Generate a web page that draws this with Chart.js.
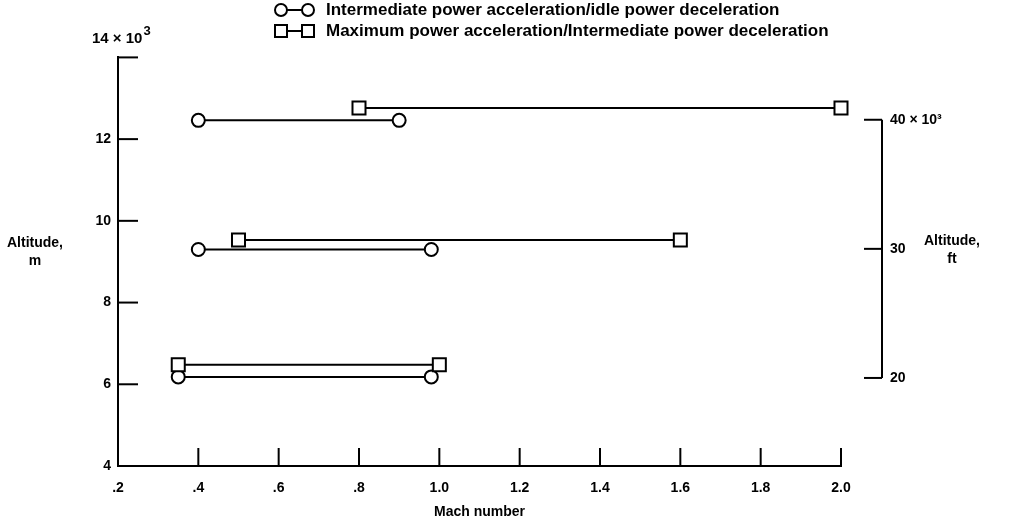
<!DOCTYPE html>
<html><head><meta charset="utf-8">
<script src="https://cdn.jsdelivr.net/npm/chart.js@4"></script>
<style>html,body{margin:0;padding:0;background:#fff}#wrap{width:1010px;height:525px}</style>
</head><body><div id="wrap"><canvas id="c" width="1010" height="525"></canvas></div>
<script>
// ---- data ----
const seriesLabels = ['Intermediate power acceleration/idle power deceleration',
                      'Maximum power acceleration/Intermediate power deceleration'];
// each test condition is one horizontal segment: [start Mach, end Mach] at one altitude (km)
const circleMach = [[0.40, 0.90], [0.40, 0.98], [0.35, 0.98]];
const circleAlt  = [12.46, 9.30, 6.18];
const squareMach = [[0.80, 2.00], [0.50, 1.60], [0.35, 1.00]];
const squareAlt  = [12.76, 9.53, 6.48];
const machTicks  = [0.2, 0.4, 0.6, 0.8, 1.0, 1.2, 1.4, 1.6, 1.8, 2.0];
const altMTicks  = [4, 6, 8, 10, 12, 14];
const altFtTicks = [20, 30, 40];
const xTitle = 'Mach number';
const yTitleM = ['Altitude,', 'm'];
const yTitleFt = ['Altitude,', 'ft'];

const FONT = "'Liberation Sans', Arial, Helvetica, sans-serif";
Chart.defaults.font.family = FONT;
Chart.defaults.font.weight = 'bold';
Chart.defaults.font.size = 14;
Chart.defaults.color = '#000';

function seg(mach, alt) { return mach.map(m => ({x: m, y: alt})); }

const datasets = [];
squareMach.forEach((m, i) => datasets.push({
  label: seriesLabels[1], data: seg(m, squareAlt[i]), showLine: true, clip: false,
  borderColor: '#000', borderWidth: 2, pointStyle: 'rect', pointRadius: 9.2,
  pointBackgroundColor: '#fff', pointBorderColor: '#000', pointBorderWidth: 2, yAxisID: 'y'
}));
circleMach.forEach((m, i) => datasets.push({
  label: seriesLabels[0], data: seg(m, circleAlt[i]), showLine: true, clip: false,
  borderColor: '#000', borderWidth: 2, pointStyle: 'circle', pointRadius: 6.5,
  pointBackgroundColor: '#fff', pointBorderColor: '#000', pointBorderWidth: 2, yAxisID: 'y'
}));

const decor = {
  id: 'decor',
  afterDraw(chart) {
    const ctx = chart.ctx, xs = chart.scales.x, ys = chart.scales.y, yf = chart.scales.yft;
    const L = chart.chartArea.left, B = chart.chartArea.bottom;
    ctx.save();
    ctx.strokeStyle = '#000'; ctx.lineWidth = 2; ctx.fillStyle = '#000';
    // inward tick marks, left axis
    altMTicks.forEach(v => {
      if (v === altMTicks[0]) return;
      const y = ys.getPixelForValue(v);
      ctx.beginPath(); ctx.moveTo(L, y); ctx.lineTo(L + 20, y); ctx.stroke();
    });
    // inward tick marks, x axis
    machTicks.forEach(v => {
      if (v === machTicks[0]) return;
      const x = xs.getPixelForValue(v);
      ctx.beginPath(); ctx.moveTo(x, B); ctx.lineTo(x, B - 18); ctx.stroke();
    });
    // right (ft) bracket axis
    const ax = yf.left + 41;
    const yTop = yf.getPixelForValue(altFtTicks[altFtTicks.length - 1]);
    const yBot = yf.getPixelForValue(altFtTicks[0]);
    ctx.beginPath(); ctx.moveTo(ax, yTop); ctx.lineTo(ax, yBot); ctx.stroke();
    altFtTicks.forEach(v => {
      const y = yf.getPixelForValue(v);
      ctx.beginPath(); ctx.moveTo(ax - 18, y); ctx.lineTo(ax, y); ctx.stroke();
    });
    // top label of left axis: 14 × 10^3
    ctx.textBaseline = 'alphabetic'; ctx.textAlign = 'left';
    ctx.font = 'bold 15px ' + FONT;
    const base = '14 × 10';
    ctx.fillText(base, 92, 43);
    const w = ctx.measureText(base).width;
    ctx.font = 'bold 13px ' + FONT;
    ctx.fillText('3', 92 + w + 1, 35);
    // axis titles (horizontal)
    ctx.font = 'bold 14px ' + FONT;
    ctx.textBaseline = 'middle';
    ctx.textAlign = 'center';
    ctx.fillText(yTitleM[0], 35, 243); ctx.fillText(yTitleM[1], 35, 261);
    ctx.fillText(yTitleFt[0], 952, 241); ctx.fillText(yTitleFt[1], 952, 259);
    // legend
    ctx.font = 'bold 17px ' + FONT;
    const rows = [{y: 10, style: 'circle', label: seriesLabels[0]},
                  {y: 31, style: 'rect', label: seriesLabels[1]}];
    rows.forEach(r => {
      ctx.lineWidth = 2;
      ctx.beginPath(); ctx.moveTo(281, r.y); ctx.lineTo(308, r.y); ctx.stroke();
      [281, 308].forEach(cx => {
        ctx.beginPath();
        if (r.style === 'circle') ctx.arc(cx, r.y, 6, 0, Math.PI * 2);
        else ctx.rect(cx - 6, r.y - 6, 12, 12);
        ctx.fillStyle = '#fff'; ctx.fill(); ctx.stroke();
      });
      ctx.fillStyle = '#000'; ctx.textAlign = 'left';
      ctx.fillText(r.label, 326, r.y);
    });
    ctx.restore();
  }
};

new Chart(document.getElementById('c'), {
  type: 'scatter',
  data: {datasets},
  options: {
    responsive: false, animation: false,
    layout: {padding: {top: 53, left: 0, right: 0, bottom: 0}},
    plugins: {legend: {display: false}, tooltip: {enabled: false}},
    scales: {
      x: {
        type: 'linear', position: 'bottom', min: 0.2, max: 2.0,
        afterBuildTicks: s => { s.ticks = machTicks.map(v => ({value: v})); },
        afterFit: s => { s.height = 59; },
        grid: {display: false, drawTicks: false},
        border: {display: true, color: '#000', width: 2},
        ticks: {padding: 14, font: {size: 14, weight: 'bold'},
          callback: v => { const t = Number(v).toFixed(1); return t.startsWith('0') ? t.slice(1) : t; }},
        title: {display: true, text: xTitle, font: {size: 14, weight: 'bold'}, padding: {top: 4, bottom: 4}}
      },
      y: {
        type: 'linear', position: 'left', min: 4, max: 14,
        afterBuildTicks: s => { s.ticks = altMTicks.map(v => ({value: v})); },
        afterFit: s => { s.width = 118; },
        grid: {display: false, drawTicks: false},
        border: {display: true, color: '#000', width: 2},
        ticks: {padding: 7, font: {size: 14, weight: 'bold'},
          callback: v => (v === 14 ? '' : String(v))}
      },
      yft: {
        type: 'linear', position: 'right', min: 13.18, max: 44.83,
        afterBuildTicks: s => { s.ticks = altFtTicks.map(v => ({value: v})); },
        afterFit: s => { s.width = 169; },
        grid: {display: false, drawTicks: false},
        border: {display: false},
        ticks: {padding: 49, font: {size: 14, weight: 'bold'},
          callback: v => (v === 40 ? '40 × 10³' : String(v))}
      }
    }
  },
  plugins: [decor]
});
</script>
</body></html>
